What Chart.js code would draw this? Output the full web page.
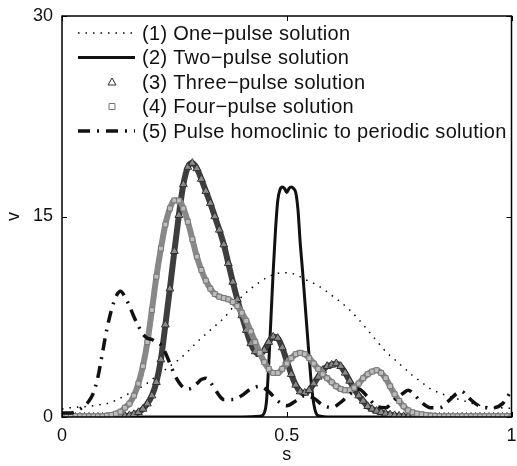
<!DOCTYPE html>
<html>
<head>
<meta charset="utf-8">
<script src="https://cdn.jsdelivr.net/npm/chart.js@4.4.1/dist/chart.umd.min.js"></script>
<style>
  html, body { margin: 0; padding: 0; background: #fff; }
  #wrap { width: 517px; height: 466px; }
</style>
</head>
<body>
<div id="wrap"><canvas id="pulseChart"></canvas></div>
<script>
// Legend labels
const seriesLabels = [
    '(1) One\u2212pulse solution',
    '(2) Two\u2212pulse solution',
    '(3) Three\u2212pulse solution',
    '(4) Four\u2212pulse solution',
    '(5) Pulse homoclinic to periodic solution'
];

// (1) one-pulse, sampled every 0.02
const sOne = Array.from({length: 51}, (_, i) => i / 50);
const vOne = [0.6, 0.7, 0.75, 0.8, 0.9, 1.0, 1.25, 1.6, 1.95, 2.3,
              2.8, 3.3, 3.8, 4.3, 4.9, 5.6, 6.2, 6.8, 7.4, 8.2,
              9.0, 9.6, 10.1, 10.5, 10.75, 10.8, 10.65, 10.3, 10.0, 9.6,
              9.1, 8.6, 8.0, 7.3, 6.5, 5.7, 4.9, 4.3, 3.7, 3.1,
              2.6, 2.1, 1.8, 1.55, 1.35, 1.15, 0.95, 0.8, 0.72, 0.68, 0.65];

// (2) two-pulse
const sTwo = [0, 0.40, 0.44, 0.45, 0.455, 0.46, 0.465, 0.47, 0.475, 0.48, 0.485, 0.49, 0.495,
              0.50, 0.505, 0.51, 0.515, 0.52, 0.525, 0.53, 0.535, 0.54, 0.545, 0.55, 0.555,
              0.56, 0.565, 0.57, 0.60, 1];
const vTwo = [0, 0, 0.05, 0.3, 1.2, 4.0, 7.5, 11.0, 14.0, 16.2, 17.0, 17.2, 17.1,
              16.8, 17.1, 17.2, 17.1, 16.8, 15.5, 13.0, 11.0, 8.8, 6.6, 4.4, 2.4,
              1.0, 0.3, 0.1, 0, 0];

// (3) three-pulse and (4) four-pulse, sampled every 0.01
const sMarks = Array.from({length: 101}, (_, i) => i / 100);
const vThree = [0, 0, 0, 0, 0, 0, 0, 0, 0, 0,
                0, 0, 0.02, 0.05, 0.08, 0.12, 0.2, 0.35, 0.6, 1.0,
                1.6, 2.6, 4.3, 6.9, 9.6, 12.4, 15.1, 17.4, 18.7, 19.0,
                18.6, 17.8, 16.9, 16.0, 15.0, 14.0, 12.9, 11.5, 10.1, 8.8,
                7.6, 6.5, 5.5, 4.9, 4.7, 5.0, 5.6, 6.0, 5.9, 5.2,
                4.2, 3.2, 2.4, 1.9, 1.8, 2.0, 2.5, 3.0, 3.5, 3.8,
                3.9, 4.0, 3.8, 3.3, 2.7, 2.1, 1.6, 1.2, 0.8, 0.6,
                0.45, 0.35, 0.25, 0.18, 0.12, 0.08, 0.05, 0.03, 0.02, 0,
                0, 0, 0, 0, 0, 0, 0, 0, 0, 0,
                0, 0, 0, 0, 0, 0, 0, 0, 0, 0, 0];
const vFour = [0.05, 0.05, 0.05, 0.05, 0.05, 0.05, 0.05, 0.05, 0.05, 0.05,
               0.1, 0.15, 0.25, 0.4, 0.7, 1.0, 1.6, 2.5, 3.8, 5.6,
               8.0, 10.5, 12.6, 14.4, 15.6, 16.2, 16.2, 15.6, 14.6, 13.3,
               12.0, 11.0, 10.2, 9.6, 9.2, 9.0, 8.9, 8.8, 8.6, 8.3,
               7.8, 7.2, 6.4, 5.6, 4.8, 4.1, 3.6, 3.3, 3.3, 3.6,
               4.0, 4.4, 4.7, 4.8, 4.7, 4.4, 4.0, 3.6, 3.2, 2.9,
               2.6, 2.3, 2.1, 2.0, 2.0, 2.2, 2.5, 2.9, 3.2, 3.4,
               3.5, 3.3, 2.9, 2.3, 1.7, 1.2, 0.8, 0.5, 0.35, 0.25,
               0.2, 0.15, 0.1, 0.08, 0.06, 0.05, 0.05, 0.05, 0.05, 0.05,
               0.05, 0.05, 0.05, 0.05, 0.05, 0.05, 0.05, 0.05, 0.05, 0.05, 0.05];

// (5) pulse homoclinic to periodic
const sFive = [0, 0.02, 0.04, 0.06, 0.07, 0.08, 0.09, 0.10, 0.11, 0.12, 0.13, 0.14, 0.15,
               0.16, 0.17, 0.18, 0.19, 0.20, 0.21, 0.22, 0.23, 0.24, 0.25, 0.26, 0.27,
               0.28, 0.29, 0.30, 0.31, 0.32, 0.33, 0.34, 0.35, 0.36, 0.38, 0.40, 0.42,
               0.44, 0.46, 0.48, 0.50, 0.52, 0.54, 0.56, 0.58, 0.60, 0.62, 0.64, 0.66,
               0.68, 0.70, 0.72, 0.74, 0.76, 0.77, 0.78, 0.80, 0.82, 0.84, 0.86, 0.88,
               0.89, 0.90, 0.92, 0.94, 0.96, 0.98, 1.0];
const vFive = [0.3, 0.3, 0.6, 1.2, 1.8, 3.0, 4.8, 6.6, 8.0, 9.0, 9.4, 9.0, 8.3,
               7.5, 6.8, 6.2, 5.9, 5.8, 5.6, 5.4, 4.8, 4.0, 3.2, 2.6, 2.2,
               2.1, 2.2, 2.5, 2.8, 2.9, 2.6, 2.1, 1.6, 1.3, 1.3, 1.6, 2.1,
               2.3, 1.9, 1.2, 0.85, 1.2, 1.6, 1.4, 0.9, 0.7, 1.1, 1.7, 2.1,
               1.5, 0.8, 0.7, 1.3, 1.8, 2.0, 1.8, 1.1, 0.7, 0.7, 1.2, 1.8,
               1.9, 1.6, 1.0, 0.7, 0.7, 1.0, 2.0];

const toPoints = (xs, ys) => xs.map((x, i) => ({x: x, y: ys[i]}));

const FONT = "'Liberation Sans', Arial, Helvetica, sans-serif";

// box around the axes and inward tick marks, matlab style
const frameTicks = {
    id: 'frameTicks',
    afterDatasetsDraw(chart) {
        const {ctx, chartArea: a, scales: {x, y}} = chart;
        ctx.save();
        ctx.strokeStyle = '#000';
        ctx.lineWidth = 1.5;
        ctx.strokeRect(a.left, a.top, a.right - a.left, a.bottom - a.top);
        ctx.lineWidth = 1;
        ctx.beginPath();
        x.ticks.forEach(t => {
            const px = Math.round(x.getPixelForValue(t.value)) + 0.5;
            ctx.moveTo(px, a.bottom); ctx.lineTo(px, a.bottom - 5);
            ctx.moveTo(px, a.top); ctx.lineTo(px, a.top + 5);
        });
        y.ticks.forEach(t => {
            const py = Math.round(y.getPixelForValue(t.value)) + 0.5;
            ctx.moveTo(a.left, py); ctx.lineTo(a.left + 5, py);
            ctx.moveTo(a.right, py); ctx.lineTo(a.right - 5, py);
        });
        ctx.stroke();
        ctx.restore();
    }
};

// legend drawn inside the axes, top left
const innerLegend = {
    id: 'innerLegend',
    afterDraw(chart) {
        const {ctx, chartArea: a} = chart;
        const x0 = a.left + 16, x1 = a.left + 73, tx = a.left + 80;
        ctx.save();
        ctx.font = '20px ' + FONT;
        ctx.letterSpacing = '0.3px';
        ctx.textBaseline = 'middle';
        chart.data.datasets.forEach((ds, i) => {
            const yy = a.top + 17 + i * 24.5;
            if (ds.showLegendLine) {
                ctx.strokeStyle = ds.borderColor;
                ctx.lineWidth = ds.borderWidth;
                ctx.setLineDash(ds.borderDash || []);
                ctx.beginPath();
                ctx.moveTo(x0, yy); ctx.lineTo(x1, yy);
                ctx.stroke();
                ctx.setLineDash([]);
            } else {
                const mx = a.left + 50;
                ctx.strokeStyle = ds.pointBorderColor;
                ctx.lineWidth = 1;
                ctx.beginPath();
                if (ds.pointStyle === 'triangle') {
                    ctx.moveTo(mx, yy - 4); ctx.lineTo(mx + 4, yy + 3); ctx.lineTo(mx - 4, yy + 3); ctx.closePath();
                } else {
                    ctx.rect(mx - 3, yy - 3, 6, 6);
                }
                ctx.stroke();
            }
            ctx.fillStyle = '#111';
            ctx.fillText(seriesLabels[i], tx, yy + 1);
        });
        ctx.restore();
    }
};

const ctx = document.getElementById('pulseChart').getContext('2d');
new Chart(ctx, {
    type: 'line',
    data: {
        datasets: [{
            label: seriesLabels[0],
            data: toPoints(sOne, vOne),
            borderColor: '#000',
            borderWidth: 1.5,
            borderDash: [1.5, 6],
            pointRadius: 0,
            order: 5,
            showLegendLine: true
        }, {
            label: seriesLabels[1],
            data: toPoints(sTwo, vTwo),
            borderColor: '#111',
            borderWidth: 3,
            pointRadius: 0,
            order: 4,
            showLegendLine: true
        }, {
            label: seriesLabels[2],
            data: toPoints(sMarks, vThree),
            borderColor: '#3e3e3e',
            borderWidth: 6,
            pointStyle: 'triangle',
            pointRadius: 4.5,
            pointBorderWidth: 1,
            pointBorderColor: '#2e2e2e',
            pointBackgroundColor: 'rgba(255,255,255,0.4)',
            order: 3
        }, {
            label: seriesLabels[3],
            data: toPoints(sMarks, vFour),
            borderColor: '#888',
            borderWidth: 6,
            pointStyle: 'rect',
            pointRadius: 3.5,
            pointBorderWidth: 1,
            pointBorderColor: '#777',
            pointBackgroundColor: 'rgba(255,255,255,0.45)',
            order: 2
        }, {
            label: seriesLabels[4],
            data: toPoints(sFive, vFive),
            borderColor: '#111',
            borderWidth: 3.5,
            borderDash: [12, 7, 2, 7],
            pointRadius: 0,
            order: 1,
            showLegendLine: true
        }]
    },
    options: {
        responsive: true,
        maintainAspectRatio: false,
        animation: false,
        cubicInterpolationMode: 'monotone',
        layout: { padding: { top: 16, right: 4, left: 0, bottom: 0 } },
        plugins: {
            legend: { display: false },
            tooltip: { enabled: false }
        },
        scales: {
            x: {
                type: 'linear',
                min: 0,
                max: 1,
                afterFit: scale => {
                    scale.height = 49;
                    scale.paddingLeft = 0;
                    scale.paddingRight = 0;
                },
                grid: { display: false, drawTicks: false },
                border: { display: false },
                ticks: {
                    stepSize: 0.5,
                    padding: 8,
                    color: '#111',
                    font: { family: FONT, size: 18 },
                    callback: v => String(v)
                },
                title: {
                    display: true,
                    text: 's',
                    color: '#111',
                    padding: { top: -3, bottom: 0 },
                    font: { family: FONT, size: 18 }
                }
            },
            y: {
                min: 0,
                max: 30,
                afterFit: scale => {
                    scale.width = 62;
                    scale.paddingTop = 0;
                    scale.paddingBottom = 0;
                },
                grid: { display: false, drawTicks: false },
                border: { display: false },
                ticks: {
                    stepSize: 15,
                    padding: 9,
                    color: '#111',
                    font: { family: FONT, size: 18 }
                },
                title: {
                    display: true,
                    text: 'v',
                    color: '#111',
                    padding: { top: 3 },
                    font: { family: FONT, size: 18 }
                }
            }
        }
    },
    plugins: [frameTicks, innerLegend]
});
</script>
</body>
</html>
